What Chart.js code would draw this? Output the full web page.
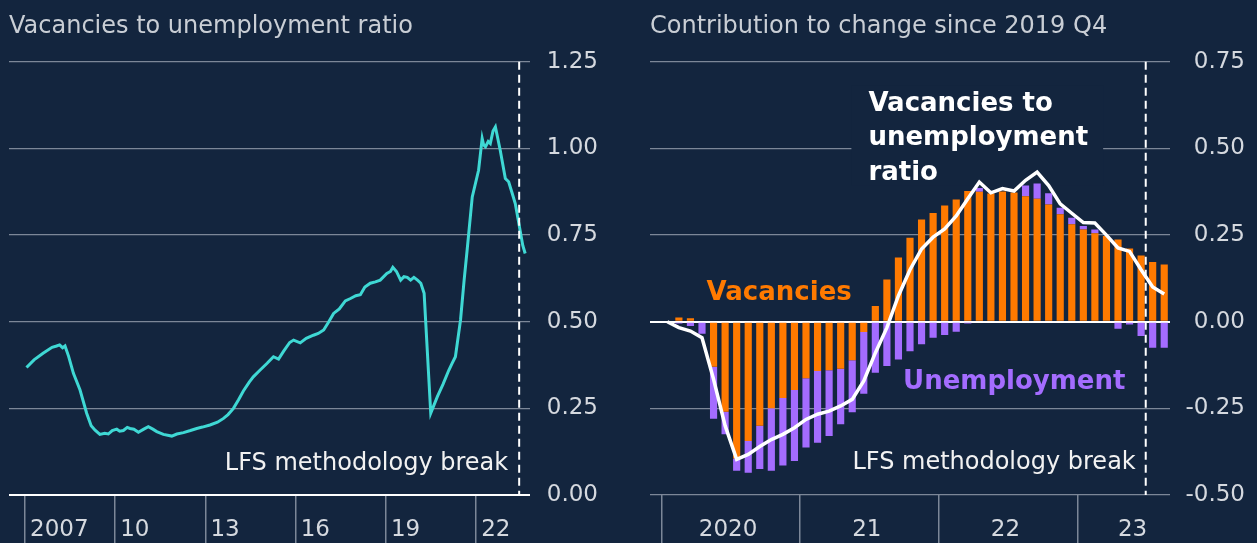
<!DOCTYPE html>
<html>
<head>
<meta charset="utf-8">
<title>Vacancies to unemployment ratio</title>
<script src="https://cdn.jsdelivr.net/npm/chart.js@4.4.0/dist/chart.umd.min.js"></script>
<style>
  html, body { margin: 0; padding: 0; background: #13253e; }
  #wrap { position: relative; width: 1257px; height: 543px; overflow: hidden; }
  .panel { position: absolute; top: 0; height: 543px; }
  #left-panel { left: 0; width: 628px; }
  #right-panel { left: 628px; width: 629px; }
</style>
</head>
<body>
<div id="wrap">
  <div class="panel" id="left-panel"><canvas id="ratio-chart"></canvas></div>
  <div class="panel" id="right-panel"><canvas id="contrib-chart"></canvas></div>
</div>
<script>
/* colours */
let bgColor = '#13253e'
let gridColor = '#7c8798'
let tickColor = '#d5d9df'
let titleColor = '#c9ced5'
let cyan = '#3fd8d4'
let orange = '#ff7a00'
let purple = '#a46cff'

/* left chart: vacancies to unemployment ratio (year, value) */
let ratioYears = [2007.05, 2007.3, 2007.6, 2007.9, 2008.05, 2008.15, 2008.25, 2008.33, 2008.45, 2008.61,
    2008.83, 2009.05, 2009.2, 2009.33, 2009.49, 2009.65, 2009.77, 2009.9, 2010.05, 2010.15,
    2010.27, 2010.4, 2010.49, 2010.62, 2010.77, 2010.95, 2011.1, 2011.25, 2011.38, 2011.6,
    2011.88, 2012.05, 2012.27, 2012.5, 2012.71, 2012.9, 2013.15, 2013.4, 2013.6, 2013.75,
    2013.93, 2014.1, 2014.26, 2014.45, 2014.59, 2014.81, 2015.05, 2015.26, 2015.43, 2015.6,
    2015.8, 2015.93, 2016.15, 2016.35, 2016.59, 2016.75, 2016.93, 2017.1, 2017.26, 2017.45,
    2017.65, 2017.82, 2018.0, 2018.15, 2018.3, 2018.48, 2018.65, 2018.81, 2019.03, 2019.15,
    2019.23, 2019.35, 2019.49, 2019.6, 2019.71, 2019.82, 2019.93, 2020.05, 2020.16, 2020.27,
    2020.49, 2020.6, 2020.71, 2020.9, 2021.09, 2021.2, 2021.31, 2021.48, 2021.6, 2021.7,
    2021.87, 2022.08, 2022.2, 2022.25, 2022.31, 2022.4, 2022.47, 2022.56, 2022.64, 2022.8,
    2022.97, 2023.08, 2023.2, 2023.3, 2023.46, 2023.55, 2023.63]
let ratioValues = [0.368, 0.39, 0.409, 0.426, 0.43, 0.433, 0.425, 0.43, 0.40, 0.351,
    0.303, 0.236, 0.20, 0.187, 0.175, 0.178, 0.176, 0.186, 0.19, 0.184,
    0.186, 0.195, 0.192, 0.19, 0.181, 0.19, 0.197, 0.19, 0.183, 0.175,
    0.17, 0.176, 0.18, 0.186, 0.192, 0.196, 0.202, 0.21, 0.221, 0.232,
    0.25, 0.275, 0.30, 0.325, 0.341, 0.36, 0.38, 0.399, 0.392, 0.415,
    0.44, 0.447, 0.439, 0.452, 0.461, 0.466, 0.476, 0.50, 0.524, 0.537,
    0.56, 0.567, 0.575, 0.578, 0.60, 0.611, 0.615, 0.62, 0.639, 0.645,
    0.657, 0.645, 0.62, 0.63, 0.628, 0.62, 0.628, 0.62, 0.611, 0.582,
    0.236, 0.26, 0.284, 0.32, 0.36, 0.38, 0.399, 0.505, 0.62, 0.707,
    0.86, 0.937, 1.029, 1.01, 1.005, 1.02, 1.014, 1.05, 1.062, 0.995,
    0.913, 0.904, 0.87, 0.841, 0.764, 0.72, 0.697]
let yearTicks = [2007, 2010, 2013, 2016, 2019, 2022]
let yearTickLabels = ['2007', '10', '13', '16', '19', '22']
let breakYear = 2023.43

/* right chart: contribution to change since 2019 Q4, monthly Dec 2019 - Aug 2023 */
let monthLabels = []
for (let y = 2019; y <= 2023; y++) {
    for (let m = 1; m <= 12; m++) {
        if ((y === 2019 && m < 12) || (y === 2023 && m > 8)) continue
        monthLabels.push(y + '-' + String(m).padStart(2, '0'))
    }
}
let vacancyContrib = [null, null,
    0.012, 0.01, 0, -0.13, -0.26, -0.395, -0.344, -0.30, -0.25, -0.22, -0.197,
    -0.163, -0.142, -0.14, -0.136, -0.111, -0.03, 0.045, 0.122, 0.185, 0.242, 0.295,
    0.314, 0.335, 0.353, 0.377, 0.375, 0.37, 0.376, 0.373, 0.362, 0.355, 0.338, 0.31,
    0.281, 0.266, 0.255, 0.247, 0.237, 0.211, 0.191, 0.172, 0.165]
let unemploymentContrib = [null, null,
    -0.005, -0.012, -0.035, -0.15, -0.065, -0.035, -0.092, -0.125, -0.18, -0.195, -0.205,
    -0.2, -0.207, -0.19, -0.16, -0.15, -0.178, -0.147, -0.128, -0.109, -0.085, -0.065,
    -0.046, -0.038, -0.029, -0.005, 0.011, 0, 0, 0, 0.031, 0.044, 0.033, 0.019,
    0.019, 0.01, 0.011, 0, -0.02, -0.008, -0.041, -0.075, -0.075]
let vuRatioChange = [null,
    0, -0.017, -0.027, -0.046, -0.166, -0.30, -0.397, -0.383, -0.36, -0.34, -0.325, -0.306,
    -0.282, -0.267, -0.258, -0.243, -0.224, -0.171, -0.09, -0.017, 0.075, 0.15, 0.21,
    0.244, 0.268, 0.305, 0.355, 0.403, 0.372, 0.384, 0.377, 0.408, 0.432, 0.393, 0.34,
    0.313, 0.286, 0.285, 0.25, 0.213, 0.203, 0.15, 0.10, 0.08]
let yearLabels = ['2020', '21', '22', '23']
let yearLabelMonths = ['2020-06', '2021-06', '2022-06', '2023-05']
let breakMonthIndex = 42.4

Chart.defaults.font.family = "'DejaVu Sans', sans-serif"
Chart.defaults.animation = false

function drawDashedBreak(chart, x) {
    let ctx = chart.ctx
    let area = chart.chartArea
    ctx.save()
    ctx.strokeStyle = '#ffffff'
    ctx.lineWidth = 2
    ctx.setLineDash([8, 5])
    ctx.beginPath()
    ctx.moveTo(x, area.top)
    ctx.lineTo(x, area.bottom)
    ctx.stroke()
    ctx.restore()
}

function drawLabel(ctx, text, x, y, font, color, align) {
    ctx.save()
    ctx.font = font
    ctx.fillStyle = color
    ctx.textAlign = align
    ctx.textBaseline = 'alphabetic'
    ctx.fillText(text, x, y)
    ctx.restore()
}

// y grid: white zero line, grey for the rest
function yGridColor(c) {
    return c.tick && c.tick.value === 0 ? '#ffffff' : gridColor
}
function yGridWidth(c) {
    return c.tick && c.tick.value === 0 ? 2 : 1.2
}

/* ---------- left chart ---------- */
let leftAnnotations = {
    id: 'leftAnnotations',
    afterDatasetsDraw(chart) {
        let x = chart.scales.x.getPixelForValue(breakYear)
        drawDashedBreak(chart, x)
        drawLabel(chart.ctx, 'LFS methodology break', x - 11, chart.scales.y.getPixelForValue(0.072),
            '24px "DejaVu Sans"', '#f2f2f2', 'right')
    }
}

let ratioChart = new Chart(document.querySelector('#ratio-chart'), {
    type: 'line',
    data: {
        datasets: [{
            data: ratioYears.map((yr, i) => ({ x: yr, y: ratioValues[i] })),
            borderColor: cyan,
            borderWidth: 3,
            pointRadius: 0,
            tension: 0
        }]
    },
    options: {
        responsive: true,
        maintainAspectRatio: false,
        layout: { padding: { left: 9, right: 30, top: 0, bottom: 0 } },
        plugins: {
            legend: { display: false },
            tooltip: { enabled: false },
            title: {
                display: true,
                text: 'Vacancies to unemployment ratio',
                align: 'start',
                color: titleColor,
                font: { size: 24, weight: 'normal' },
                padding: { top: 12, bottom: 21 }
            }
        },
        scales: {
            x: {
                type: 'linear',
                min: 2006.468,
                max: 2023.79,
                afterBuildTicks: s => { s.ticks = yearTicks.map(v => ({ value: v })) },
                afterFit: s => { s.height = 48 },
                grid: { drawOnChartArea: false, tickLength: 48, color: gridColor, lineWidth: 1.5 },
                border: { display: false },
                ticks: {
                    color: tickColor,
                    font: { size: 23 },
                    align: 'start',
                    labelOffset: 5,
                    padding: -27,
                    maxRotation: 0,
                    callback: v => yearTickLabels[yearTicks.indexOf(v)]
                }
            },
            y: {
                position: 'right',
                min: 0,
                max: 1.25,
                afterFit: s => { s.width = 68 },
                grid: { color: yGridColor, lineWidth: yGridWidth, drawTicks: false },
                border: { display: false },
                ticks: {
                    stepSize: 0.25,
                    color: tickColor,
                    font: { size: 23 },
                    crossAlign: 'far',
                    padding: 17,
                    callback: v => v.toFixed(2)
                }
            }
        }
    },
    plugins: [leftAnnotations]
})

/* ---------- right chart ---------- */
let ratioLabelLines = ['Vacancies to', 'unemployment', 'ratio']
let ratioLabelValues = [0.607, 0.509, 0.41]

let rightAnnotations = {
    id: 'rightAnnotations',
    beforeDatasetsDraw(chart) {
        // knock the gridline out behind the ratio label
        let ctx = chart.ctx
        let x = chart.scales.x.getPixelForValue(18.4)
        ctx.save()
        ctx.font = 'bold 26px "DejaVu Sans"'
        let w = Math.max(...ratioLabelLines.map(t => ctx.measureText(t).width))
        let top = chart.scales.y.getPixelForValue(ratioLabelValues[0]) - 26
        let bottom = chart.scales.y.getPixelForValue(ratioLabelValues[2]) + 6
        ctx.fillStyle = bgColor
        ctx.fillRect(x - 17, top, w + 32, bottom - top)
        ctx.restore()
    },
    afterDatasetsDraw(chart) {
        let ctx = chart.ctx
        let xs = chart.scales.x
        let ys = chart.scales.y
        let bx = xs.getPixelForValue(breakMonthIndex)
        drawDashedBreak(chart, bx)
        drawLabel(ctx, 'LFS methodology break', bx - 10, ys.getPixelForValue(-0.426),
            '24px "DejaVu Sans"', '#f2f2f2', 'right')
        drawLabel(ctx, 'Vacancies', xs.getPixelForValue(4.4), ys.getPixelForValue(0.064),
            'bold 26px "DejaVu Sans"', orange, 'left')
        drawLabel(ctx, 'Unemployment', xs.getPixelForValue(21.4), ys.getPixelForValue(-0.195),
            'bold 26px "DejaVu Sans"', purple, 'left')
        ratioLabelLines.forEach((t, i) => {
            drawLabel(ctx, t, xs.getPixelForValue(18.4), ys.getPixelForValue(ratioLabelValues[i]),
                'bold 26px "DejaVu Sans"', '#ffffff', 'left')
        })
    }
}

let contribChart = new Chart(document.querySelector('#contrib-chart'), {
    type: 'bar',
    data: {
        labels: monthLabels,
        datasets: [
            {
                type: 'line',
                label: 'Vacancies to unemployment ratio',
                data: vuRatioChange,
                borderColor: '#ffffff',
                borderWidth: 3.5,
                pointRadius: 0,
                tension: 0,
                stack: 'ratio',
                order: 0
            },
            {
                label: 'Vacancies',
                data: vacancyContrib,
                backgroundColor: orange,
                stack: 'contrib',
                barPercentage: 0.62,
                categoryPercentage: 1,
                order: 1
            },
            {
                label: 'Unemployment',
                data: unemploymentContrib,
                backgroundColor: purple,
                stack: 'contrib',
                barPercentage: 0.62,
                categoryPercentage: 1,
                order: 2
            }
        ]
    },
    options: {
        responsive: true,
        maintainAspectRatio: false,
        layout: { padding: { left: 22, right: 12, top: 0, bottom: 0 } },
        plugins: {
            legend: { display: false },
            tooltip: { enabled: false },
            title: {
                display: true,
                text: 'Contribution to change since 2019 Q4',
                align: 'start',
                color: titleColor,
                font: { size: 24, weight: 'normal' },
                padding: { top: 12, bottom: 21 }
            }
        },
        scales: {
            x: {
                stacked: true,
                afterFit: s => { s.height = 48 },
                grid: {
                    drawOnChartArea: false,
                    offset: true,
                    tickLength: 48,
                    lineWidth: 1.5,
                    color: c => (c.index % 12 === 1 ? gridColor : 'transparent')
                },
                border: { display: false },
                ticks: {
                    autoSkip: false,
                    maxRotation: 0,
                    color: tickColor,
                    font: { size: 23 },
                    labelOffset: 3,
                    padding: -27,
                    callback: function(v, i) {
                        let k = yearLabelMonths.indexOf(monthLabels[i])
                        return k >= 0 ? yearLabels[k] : ''
                    }
                }
            },
            y: {
                position: 'right',
                stacked: true,
                min: -0.5,
                max: 0.75,
                afterFit: s => { s.width = 75 },
                grid: { color: yGridColor, lineWidth: yGridWidth, drawTicks: false },
                border: { display: false },
                ticks: {
                    stepSize: 0.25,
                    color: tickColor,
                    font: { size: 23 },
                    crossAlign: 'far',
                    padding: 15,
                    callback: v => v.toFixed(2)
                }
            }
        }
    },
    plugins: [rightAnnotations]
})
</script>
</body>
</html>
